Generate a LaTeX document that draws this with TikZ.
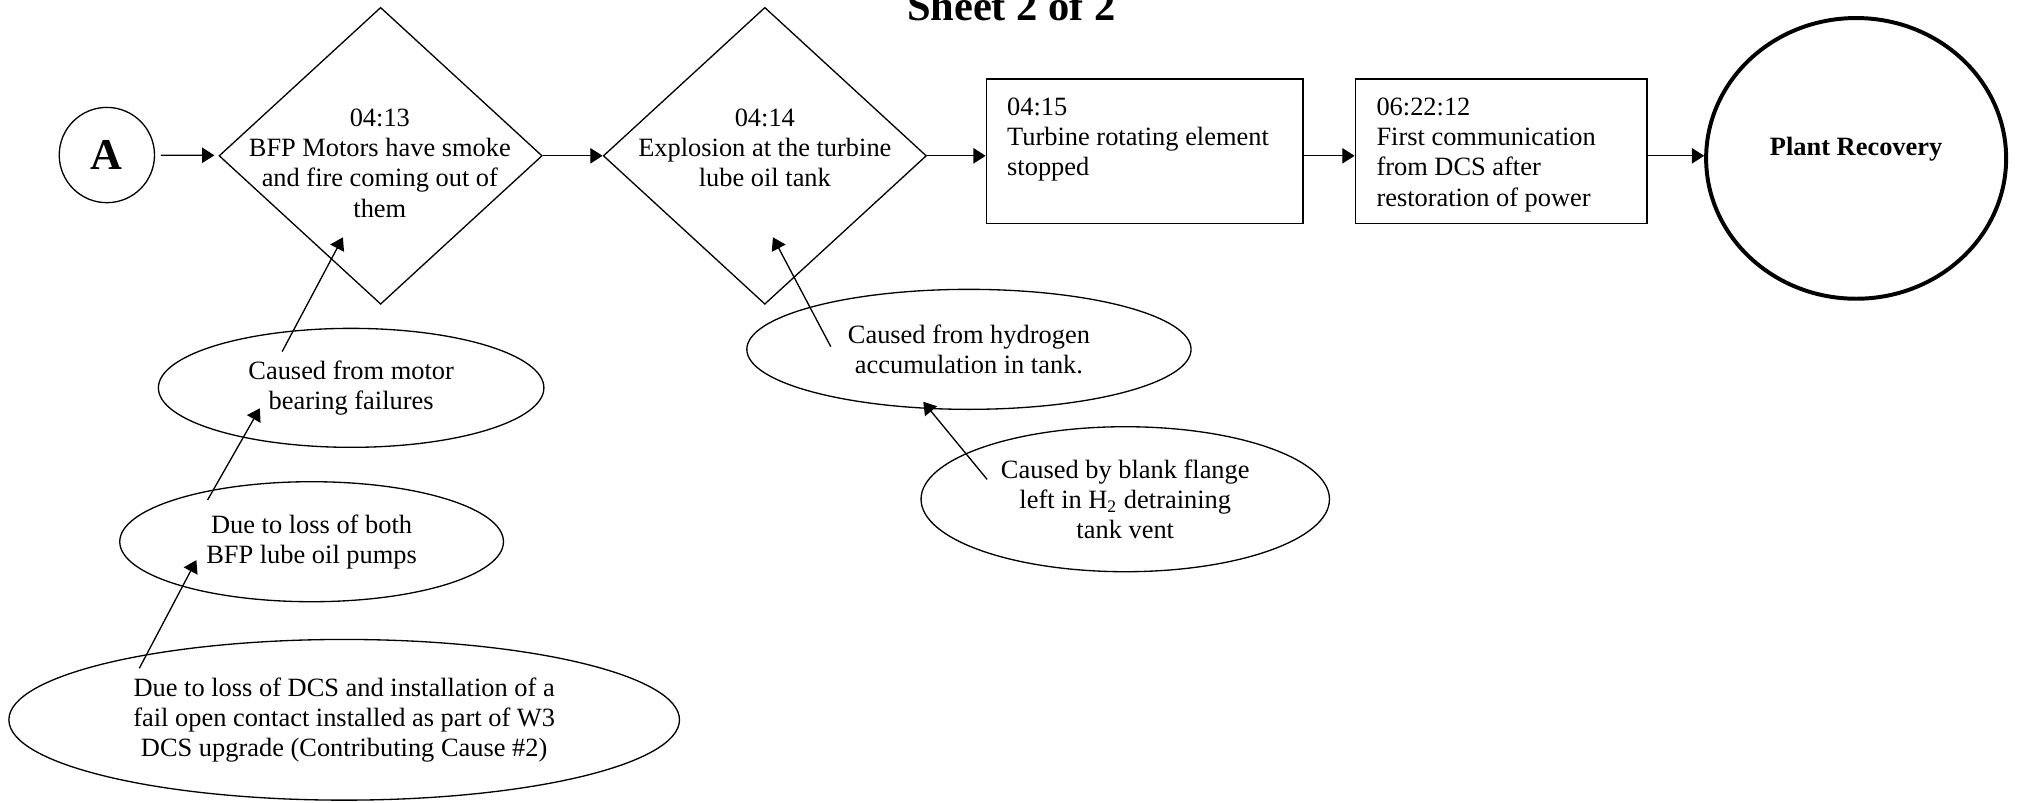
\documentclass[tikz,border=0pt]{standalone}
\usepackage{fontspec}
\setmainfont{Liberation Serif}
\usetikzlibrary{shapes.geometric,arrows.meta}
% one drawing unit = 0.585pt
\def\pxs{0.585pt}
\begin{document}
\begin{tikzpicture}[x=0.585pt,y=-0.585pt,
  font=\fontsize{12}{13.7}\selectfont,
  line width=0.6pt,
  arr/.style={-{Triangle[length=5.6pt,width=7pt]}},
  event/.style={draw,diamond,inner sep=0pt,
    minimum width=251*\pxs,minimum height=230.6*\pxs},
  evtext/.style={inner sep=0pt,anchor=north,align=center},
  stepbox/.style={draw,rectangle,inner sep=0pt},
  boxtext/.style={inner sep=0pt,anchor=north west,align=left},
  cause/.style={draw,ellipse,inner sep=0pt,align=center},
]
\useasboundingbox (0,0) rectangle (1568,623);

% title
\node[font=\fontsize{19.3}{22}\selectfont\bfseries,anchor=base,inner sep=0pt]
  (title) at (785.5,16) {Sheet 2 of 2};

% connector A
\node[draw,circle,inner sep=0pt,minimum size=74*\pxs,
  font=\fontsize{20}{22}\selectfont\bfseries] (A) at (83,120.4) {A};

% main chain of events
\node[event] (d1) at (295.6,121) {};
\node[evtext] (d1t) at (295,84.2)
  {04:13\\BFP Motors have smoke\\and fire coming out of\\them};

\node[event] (d2) at (594,121) {};
\node[evtext] (d2t) at (594,84.2)
  {04:14\\Explosion at the turbine\\lube oil tank};

\node[stepbox,minimum width=246*\pxs,minimum height=112*\pxs]
  (b1) at (889,117.4) {};
\node[boxtext] (b1t) at (781.7,75.3)
  {04:15\\Turbine rotating element\\stopped};

\node[stepbox,minimum width=226.5*\pxs,minimum height=112*\pxs]
  (b2) at (1165.75,117.4) {};
\node[boxtext] (b2t) at (1068.5,75.6)
  {06:22:12\\First communication\\from DCS after\\restoration of power};

\node[draw,ellipse,line width=1.8pt,inner sep=0pt,
  minimum width=233*\pxs,minimum height=218*\pxs] (pr) at (1441.5,123) {};
\node[font=\fontsize{12}{13.7}\selectfont\bfseries,anchor=base,inner sep=0pt]
  (prt) at (1441.5,121) {Plant Recovery};

% causes
\node[cause,minimum width=299.4*\pxs,minimum height=92.4*\pxs]
  (e1) at (272.7,301.2) {Caused from motor\\bearing failures};
\node[cause,minimum width=298*\pxs,minimum height=93.2*\pxs]
  (e2) at (242,420.7) {Due to loss of both\\BFP lube oil pumps};
\node[cause,minimum width=520.8*\pxs,minimum height=124.8*\pxs]
  (e3) at (267.3,559) {Due to loss of DCS and installation of a\\fail open contact installed as part of W3\\DCS upgrade (Contributing Cause \#2)};
\node[cause,minimum width=345*\pxs,minimum height=93.2*\pxs]
  (e4) at (752.5,271.3) {Caused from hydrogen\\accumulation in tank.};
\node[cause,minimum width=317.2*\pxs,minimum height=112.6*\pxs]
  (e5) at (873.9,387.7) {Caused by blank flange\\left in H\textsubscript{2} detraining\\tank vent};

% ends of the cause arrows
\coordinate (c1t) at (219.1,273.1);
\coordinate (c1h) at (266.3,184.3);
\coordinate (c2t) at (161.2,388.3);
\coordinate (c2h) at (201.8,317.1);
\coordinate (c3t) at (108.2,519);
\coordinate (c3h) at (152.5,435);
\coordinate (c4t) at (645.2,269.2);
\coordinate (c4h) at (600.3,184.3);
\coordinate (c5t) at (766.6,372.3);
\coordinate (c5h) at (717,312);

% chain arrows
\draw[arr,shorten <=4.5*\pxs,shorten >=3.5*\pxs] (A) -- (d1);
\draw[arr] (d1) -- (d2);
\draw[arr] (d2.east) -- (d2.east -| b1.west);
\draw[arr] (b1.east |- d2.east) -- (b2.west |- d2.east);
\draw[arr] (b2.east |- d2.east) -- (pr.west |- d2.east);

% cause arrows
\draw[arr] (c1t) -- (c1h);
\draw[arr] (c2t) -- (c2h);
\draw[arr] (c3t) -- (c3h);
\draw[arr] (c4t) -- (c4h);
\draw[arr] (c5t) -- (c5h);
\end{tikzpicture}
\end{document}
